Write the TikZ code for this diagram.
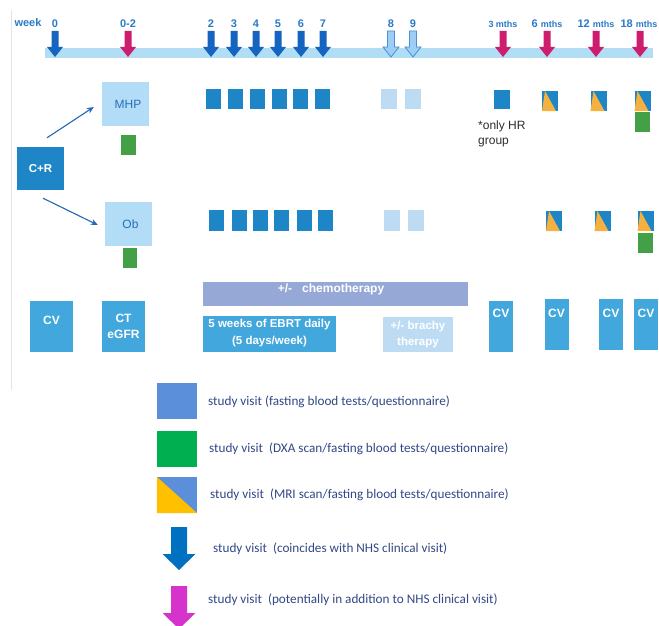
\documentclass[tikz,border=0pt]{standalone}
\usepackage{fontspec}
\setmainfont{Liberation Sans}
\newfontfamily\legfont{Carlito}
\usetikzlibrary{arrows.meta}
\definecolor{barblue}{RGB}{178,222,245}
\definecolor{arrblue}{RGB}{21,101,192}
\definecolor{arrmag}{RGB}{205,30,110}
\definecolor{lblblue}{RGB}{42,122,200}
\definecolor{lightbox}{RGB}{179,221,247}
\definecolor{darksq}{RGB}{30,134,198}
\definecolor{greensq}{RGB}{67,160,71}
\definecolor{orangesq}{RGB}{244,177,63}
\definecolor{palesq}{RGB}{189,220,243}
\definecolor{cvblue}{RGB}{66,167,220}
\definecolor{chemoc}{RGB}{150,168,213}
\definecolor{legblue}{RGB}{91,143,217}
\definecolor{leggreen}{RGB}{0,176,80}
\definecolor{legyellow}{RGB}{255,192,0}
\definecolor{legarrblue}{RGB}{0,112,192}
\definecolor{legmag}{RGB}{214,51,204}
\definecolor{legtext}{RGB}{50,72,135}
\definecolor{outlinearr}{RGB}{74,144,212}
\definecolor{fillarr}{RGB}{158,205,245}
\definecolor{connc}{RGB}{35,104,181}
\definecolor{greyline}{RGB}{228,228,228}
\definecolor{mhptext}{RGB}{40,110,185}
\begin{document}
\begin{tikzpicture}[x=1pt,y=-1pt,
  sq/.style={inner sep=0pt, outer sep=0pt, minimum width=15, minimum height=20},
  darkbox/.style={sq, fill=darksq},
  palebox/.style={sq, fill=palesq, minimum width=16},
  greenbox/.style={sq, fill=greensq},
  splitbox/.style={sq, fill=darksq, minimum width=16},
  lbl/.style={font=\bfseries\fontsize{11}{13}\selectfont, text=lblblue, inner sep=0pt},
  lblsmall/.style={font=\bfseries\fontsize{9}{10}\selectfont, text=lblblue, inner sep=0pt},
  armbox/.style={fill=lightbox, inner sep=0pt, minimum width=47, minimum height=44, text=mhptext, font=\fontsize{12}{14}\selectfont},
  whitebold/.style={text=white, font=\bfseries\fontsize{11.5}{14}\selectfont, align=center, inner sep=0pt},
  cvbox/.style={fill=cvblue, inner sep=0pt, minimum height=51},
  conn/.style={draw=connc, line width=1.1pt, -{Stealth[length=7pt,width=6pt]}},
  legsq/.style={inner sep=0pt, minimum width=40, minimum height=36},
  legtxt/.style={anchor=west, inner sep=0pt, text=legtext, font=\legfont\fontsize{13.2}{15}\selectfont},
  pics/tarr/.style={code={\path[pic actions] (-3.5,0) -- (3.5,0) -- (3.5,16) -- (8,16) -- (0,26) -- (-8,16) -- (-3.5,16) -- cycle;}},
  pics/larr/.style={code={\path[pic actions] (-8,0) -- (8,0) -- (8,27) -- (16.5,27) -- (0,43) -- (-16.5,27) -- (-8,27) -- cycle;}}
]
\useasboundingbox (0,0) rectangle (659,626);
\fill[white] (0,0) rectangle (659,626);
\draw[greyline, line width=0.8pt] (11,10) -- (11,390);

% timeline
\fill[barblue] (45,48) rectangle (653,58);
\node[lbl] (lweek) at (28,23) {week};
\foreach \x/\n/\t in {55/w0/0, 211/w2/2, 234/w3/3, 256/w4/4, 278/w5/5, 301/w6/6, 323/w7/7}{
  \pic[fill=arrblue] (\n) at (\x,31) {tarr};
  \node[lbl] (l\n) at (\x,23.5) {\t};
}
\pic[fill=arrmag] (w02) at (128,31) {tarr};
\node[lbl] (lw02) at (128,23.5) {0-2};
\foreach \x/\n/\t in {391/w8/8, 413/w9/9}{
  \pic[fill=fillarr, draw=outlinearr, line width=0.8pt] (\n) at (\x,31) {tarr};
  \node[lbl] (l\n) at (\x,23.5) {\t};
}
\foreach \x/\n in {503/m3, 547/m6, 596/m12, 640/m18}{
  \pic[fill=arrmag] (\n) at (\x,31) {tarr};
}
\node[lblsmall] (lm3) at (503,24) {3 mths};
\node[lbl] (lm6) at (547,24) {6 {\fontsize{9}{10}\selectfont mths}};
\node[lbl] (lm12) at (596,24) {12 {\fontsize{9}{10}\selectfont mths}};
\node[lbl] (lm18) at (639,24) {18 {\fontsize{9}{10}\selectfont mths}};

% arms
\node[fill=darksq, inner sep=0pt, minimum width=47, minimum height=43, whitebold, font=\bfseries\fontsize{11.5}{13}\selectfont] (cr) at (40.5,168.5) {C+R};
\node[armbox] (mhp) at (125.5,104) {\hspace*{5pt}MHP};
\node[armbox] (ob) at (128.5,224) {\hspace*{4pt}Ob};
\draw[conn] ([xshift=6.5pt,yshift=9pt]cr.north) -- ([xshift=-8pt,yshift=-3pt]mhp.west);
\draw[conn] ([xshift=2.5pt,yshift=-8pt]cr.south) -- ([xshift=-7pt,yshift=-1pt]ob.west);
\node[greenbox] (gmhp) at (128.5,145) {};
\node[greenbox, minimum width=14] (gob) at (130,258) {};

% row 1 squares
\foreach \x [count=\i] in {213.5,235.5,257.5,279.5,300.5,322.5}{
  \node[darkbox] (r1d\i) at (\x,99) {};
}
\node[palebox] (r1p1) at (389,99) {};
\node[palebox] (r1p2) at (413,99) {};
\node[darkbox, minimum width=16, minimum height=19] (r1m3) at (502,99.5) {};
\node[anchor=north west, inner sep=0pt, align=left, text={rgb,255:red,45;green,45;blue,45}, font=\fontsize{12}{15}\selectfont] (hr) at (478,121) {*only HR\\group};
\foreach \x/\n in {550/r1m6, 598.5/r1m12, 642.5/r1m18}{
  \node[splitbox] (\n) at (\x,101) {};
  \fill[orangesq] ([xshift=3pt]\n.north west) -- ([xshift=-2pt]\n.south east) -- (\n.south west) -- cycle;
}
\node[greenbox] (r1g18) at (642.5,122) {};

% row 2 squares
\foreach \x [count=\i] in {216.5,239.5,260.5,281.5,304.5,325.5}{
  \node[darkbox, minimum height=21] (r2d\i) at (\x,220.5) {};
}
\node[palebox, minimum height=21] (r2p1) at (392,220.5) {};
\node[palebox, minimum height=21] (r2p2) at (416,220.5) {};
\foreach \x/\n in {554/r2m6, 602.5/r2m12, 645.5/r2m18}{
  \node[splitbox] (\n) at (\x,221) {};
  \fill[orangesq] ([xshift=3pt]\n.north west) -- ([xshift=-2pt]\n.south east) -- (\n.south west) -- cycle;
}
\node[greenbox] (r2g18) at (645.5,243) {};

% bottom row
\node[fill=chemoc, inner sep=0pt, minimum width=265, minimum height=24] (chemo) at (335.5,294) {};
\node[whitebold, font=\bfseries\fontsize{12}{14}\selectfont] (chemot) at (331,289.5) {+/-\ \ \ chemotherapy};
\node[fill=cvblue, inner sep=0pt, minimum width=133, minimum height=36, whitebold, font=\bfseries\fontsize{11.5}{17}\selectfont] (ebrt) at (269.5,333.5) {5 weeks of EBRT daily\\(5 days/week)};
\node[fill=palesq, inner sep=0pt, minimum width=70, minimum height=35, whitebold, font=\bfseries\fontsize{11.5}{16}\selectfont] (brachy) at (418,334.5) {+/- brachy\\therapy};
\node[cvbox, minimum width=43] (cv1) at (51.5,326.5) {};
\node[whitebold, font=\bfseries\fontsize{12}{14}\selectfont] (cv1t) at (51.5,320) {CV};
\node[cvbox, minimum width=43, whitebold, font=\bfseries\fontsize{12}{16}\selectfont] (ct) at (123.5,326.5) {CT\\eGFR};
\foreach \x/\y/\n in {501/326.5/cv2, 556.5/324/cv3, 611/324.5/cv4, 646/324.5/cv5}{
  \node[cvbox, minimum width=24] (\n) at (\x,\y) {};
  \node[whitebold, font=\bfseries\fontsize{12}{14}\selectfont] (\n t) at (\x,313.5) {CV};
}

% legend
\node[legsq, fill=legblue] (leg1) at (177,401) {};
\node[legtxt] (leg1t) at (208,402) {study visit (fasting blood tests/questionnaire)};
\node[legsq, fill=leggreen] (leg2) at (177,449) {};
\node[legtxt] (leg2t) at (209,449) {study visit\ \ (DXA scan/fasting blood tests/questionnaire)};
\node[legsq, fill=legblue] (leg3) at (177,495) {};
\fill[legyellow] (leg3.north west) -- (leg3.south east) -- (leg3.south west) -- cycle;
\node[legtxt] (leg3t) at (210,495) {study visit\ \ (MRI scan/fasting blood tests/questionnaire)};
\pic[fill=legarrblue] (leg4) at (179,527) {larr};
\node[legtxt] (leg4t) at (213,549) {study visit\ \ (coincides with NHS clinical visit)};
\pic[fill=legmag] (leg5) at (179,586) {larr};
\node[legtxt] (leg5t) at (208,600) {study visit\ \ (potentially in addition to NHS clinical visit)};
\end{tikzpicture}
\end{document}
